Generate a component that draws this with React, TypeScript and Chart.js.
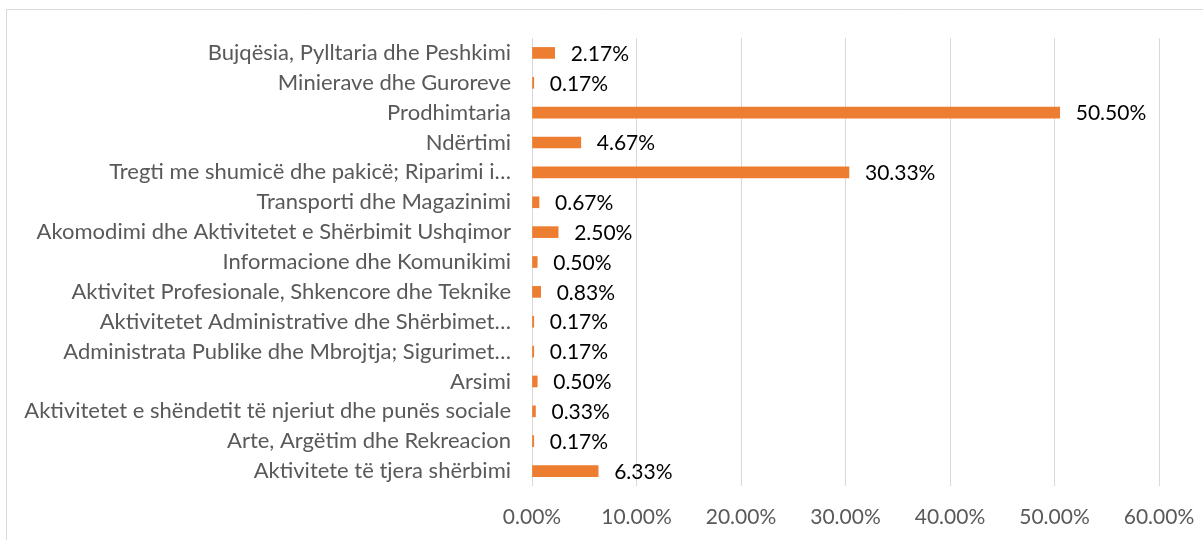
import React, { useEffect, useRef } from "react";
import { Chart, registerables } from "chart.js";

Chart.register(...registerables);

const categories: string[] = [
  "Bujqësia, Pylltaria dhe Peshkimi",
  "Minierave dhe Guroreve",
  "Prodhimtaria",
  "Ndërtimi",
  "Tregti me shumicë dhe pakicë; Riparimi i…",
  "Transporti dhe Magazinimi",
  "Akomodimi dhe Aktivitetet e Shërbimit Ushqimor",
  "Informacione dhe Komunikimi",
  "Aktivitet Profesionale, Shkencore dhe Teknike",
  "Aktivitetet Administrative dhe Shërbimet…",
  "Administrata Publike dhe Mbrojtja; Sigurimet…",
  "Arsimi",
  "Aktivitetet e shëndetit të njeriut dhe punës sociale",
  "Arte, Argëtim dhe Rekreacion",
  "Aktivitete të tjera shërbimi",
];

const values: number[] = [
  2.17, 0.17, 50.5, 4.67, 30.33, 0.67, 2.5, 0.5, 0.83, 0.17, 0.17, 0.5, 0.33, 0.17, 6.33,
];

const axisMin = 0;
const axisMax = 60;
const axisStep = 10;

const FONT = "Lato";
const BAR_COLOR = "#ED7D31";

const fmt = (v: number) => v.toFixed(2) + "%";

const framePlugin = {
  id: "frame",
  beforeDraw(chart: any) {
    const ctx = chart.ctx;
    ctx.save();
    ctx.strokeStyle = "#d9d9d9";
    ctx.lineWidth = 1;
    ctx.beginPath();
    ctx.moveTo(6.5, chart.height);
    ctx.lineTo(6.5, 9.5);
    ctx.lineTo(chart.width, 9.5);
    ctx.stroke();
    ctx.restore();
  },
};

const labelPlugin = {
  id: "barLabels",
  afterDatasetsDraw(chart: any) {
    const ctx = chart.ctx;
    const meta = chart.getDatasetMeta(0);
    const data = chart.data.datasets[0].data as number[];
    ctx.save();
    ctx.font = `21px ${FONT}`;
    ctx.fillStyle = "#000000";
    ctx.textAlign = "left";
    ctx.textBaseline = "middle";
    meta.data.forEach((bar: any, i: number) => {
      ctx.fillText(fmt(data[i]), bar.x + 16, bar.y + 1);
    });
    ctx.restore();
  },
};

export default function App() {
  const ref = useRef<HTMLCanvasElement | null>(null);

  useEffect(() => {
    if (!ref.current) return;
    const chart = new Chart(ref.current, {
      type: "bar",
      data: {
        labels: categories,
        datasets: [
          {
            data: values,
            backgroundColor: BAR_COLOR,
            barThickness: 11,
          },
        ],
      },
      options: {
        indexAxis: "y",
        animation: false,
        responsive: false,
        maintainAspectRatio: false,
        layout: { padding: { top: 38, right: 44, bottom: 0, left: 0 } },
        plugins: {
          legend: { display: false },
          tooltip: { enabled: false },
        },
        scales: {
          x: {
            min: axisMin,
            max: axisMax,
            border: { display: false },
            grid: { color: "#d9d9d9", lineWidth: 1, drawTicks: false },
            ticks: {
              stepSize: axisStep,
              padding: 19,
              color: "#595959",
              font: { family: FONT, size: 21 },
              callback: (v: any) => fmt(Number(v)),
            },
            afterFit: (s: any) => {
              s.height = 54;
              s.paddingLeft = 0;
              s.paddingRight = 0;
            },
          },
          y: {
            border: { display: false },
            grid: { display: false, drawTicks: false },
            ticks: {
              padding: 21,
              color: "#595959",
              font: { family: FONT, size: 22 },
              autoSkip: false,
            },
            afterFit: (s: any) => {
              s.width = 532;
              s.paddingTop = 0;
              s.paddingBottom = 0;
            },
          },
        },
      },
      plugins: [framePlugin, labelPlugin],
    });
    return () => chart.destroy();
  }, []);

  return (
    <div style={{ position: "fixed", left: 0, top: 0, width: 1203, height: 540, background: "#fff" }}>
      <canvas ref={ref} width={1203} height={540} style={{ width: 1203, height: 540, display: "block" }} />
    </div>
  );
}
